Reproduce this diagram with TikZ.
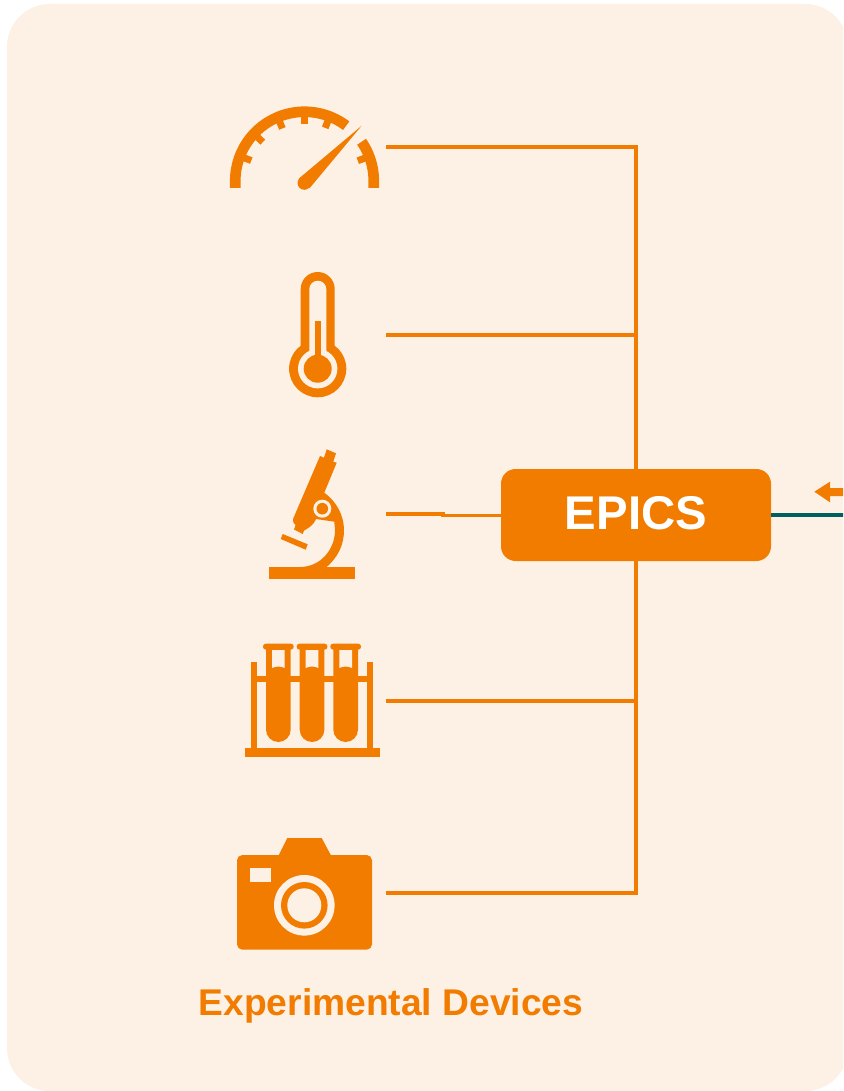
\documentclass[tikz,border=0pt]{standalone}
\usepackage{fontspec}
\setmainfont{Liberation Sans}
\definecolor{bgc}{HTML}{FDF1E6}
\definecolor{org}{HTML}{F17C00}
\definecolor{tealc}{HTML}{005F5F}
\tikzset{
  bus/.style={draw=org,line width=2.9pt,line join=miter},
  ink/.style={fill=org,draw=none},
  hole/.style={fill=bgc,draw=none},
  dial/.style={draw=org,line width=8pt},
  tick/.style={draw=org,line width=5.2pt},
  epicsbox/.style={fill=org,draw=none,rounded corners=11pt,minimum width=202.5pt,minimum height=69pt,inner sep=0pt,text=white,font=\bfseries\fontsize{35.5pt}{36pt}\selectfont},
  devlabel/.style={text=org,inner sep=0pt,font=\bfseries\fontsize{27.9pt}{28pt}\selectfont},
}
\begin{document}
\begin{tikzpicture}[x=0.75pt,y=-0.75pt]
\useasboundingbox (0,0) rectangle (843,1091);
\fill[white] (0,0) rectangle (843,1091);
\begin{scope}
\clip (0,0) rectangle (843,1091);
\fill[bgc,rounded corners=32pt] (7,4) rectangle (848,1091);
% gauge
\draw[dial] (235.25,188) -- (235.25,181) -- plot[domain=180:53,samples=70] ({304.5+69.25*cos(\x)},{181-69.25*sin(\x)});
\draw[dial] (373.75,188) -- (373.75,181) -- plot[domain=0:34.5,samples=30] ({304.5+69.25*cos(\x)},{181-69.25*sin(\x)});
\foreach \a in {20.8,68.7,90,112.8,137,159}
  \draw[tick] ({304.5+65*cos(\a)},{181-65*sin(\a)}) -- ({304.5+57*cos(\a)},{181-57*sin(\a)});
\fill[ink] (304.3,183) circle[radius=6.8];
\fill[ink] (361.7,125.7) -- (298.8,178.6) -- (309.6,188.2) -- cycle;
% thermometer
\fill[ink,rounded corners=12.75pt] (300.7,272) rectangle (334.7,372);
\fill[ink] (317.7,368.7) circle[radius=28.6];
\fill[hole,rounded corners=6.37pt] (309.3,280.7) rectangle (326.3,372);
\fill[hole] (317.7,368.7) circle[radius=19.7];
\fill[ink] (315,321) rectangle (320.7,368);
\fill[ink] (317.7,368.7) circle[radius=14];
% microscope
\fill[ink] (269,567) rectangle (355,579);
\fill[ink] (282.7,534) -- (307.7,544.3) -- (305.7,549.7) -- (280.7,539) -- cycle;
\fill[ink] (320,456) -- (324,457.7) -- (326.7,449.3) -- (336,453.3) -- (333.3,461.7) -- (336.7,462.7)
  -- (324.3,492.7) .. controls (336,501) and (344,515) .. (344,530)
  .. controls (344,545) and (338,557) .. (326.7,567) -- (300,567)
  .. controls (320,567) and (335,550) .. (335,530) -- (334.3,521.7) -- (316,519)
  .. controls (313,526) and (308,528) .. (304,530.7) -- (302.7,534) -- (294,529.5) -- (295.5,525)
  .. controls (292,522) and (293,519) .. (293.3,518.3) -- cycle;
\fill[hole] (322.3,508.7) circle[radius=9];
\fill[ink] (322.3,508.7) circle[radius=5.8];
% test tubes
\fill[ink] (244.7,748) rectangle (379.7,757);
\fill[ink] (250.7,662) rectangle (256.7,748);
\fill[ink] (367.3,662) rectangle (373.3,748);
\fill[ink] (256,676) rectangle (368,682);
\foreach \t in {266,299.7,333.3} {
  \fill[ink] (\t,649) [rounded corners=9.26pt] -- (\t,742) -- (\t+24.7,742) [sharp corners] -- (\t+24.7,649) -- cycle;
  \fill[ink,rounded corners=2pt] (\t-3,643.7) rectangle (\t+27.7,649.6);
  \fill[hole] (\t+6,650) -- (\t+6,668) .. controls (\t+10,666) and (\t+14.7,666) .. (\t+18.7,668) -- (\t+18.7,650) -- cycle;
}
% camera
\fill[ink,rounded corners=4pt] (237,855) rectangle (372,949.7);
\fill[ink] (278.3,856) -- (287.3,838) -- (321.7,838) -- (331.3,856) -- cycle;
\fill[hole] (250.3,868.3) rectangle (271,882);
\fill[hole] (304.3,905.3) circle[radius=30.3];
\fill[ink] (304.3,905.3) circle[radius=23.3];
\fill[hole] (304.3,905.3) circle[radius=17];
% nodes
\node[epicsbox] (EPICS) at (636,515) {\raisebox{2.6pt}{EPICS}};
\node[devlabel] (devices) at (391,1005.5) {Experimental Devices};
\coordinate (g1) at (386,147);
\coordinate (g2) at (386,334.7);
\coordinate (g3) at (386,514.3);
\coordinate (g3b) at (445,514.3);
\coordinate (g3c) at (441,515.5);
\coordinate (g4) at (386,700.7);
\coordinate (g5) at (386,893);
\coordinate (b1) at (636,147);
\coordinate (b2) at (636,334.7);
\coordinate (b4) at (636,700.7);
\coordinate (b5) at (636,893);
\coordinate (net) at (846,515);
% connectors
\draw[bus] (g1) -- (b1) -- (EPICS);
\draw[bus] (g5) -- (b5) -- (EPICS);
\draw[bus] (g2) -- (b2);
\draw[bus] (g4) -- (b4);
\draw[bus] (g3) -- (g3b);
\draw[bus] (g3c) -- (g3c -| EPICS.west);
\draw[tealc,line width=3pt] (EPICS.east) -- (net);
% arrow
\fill[ink] (814.3,491.7) -- (830,481.7) -- (830,488.2) -- (846,488.2) -- (846,496) -- (830,496) -- (830,502.3) -- cycle;
\end{scope}
\end{tikzpicture}
\end{document}
